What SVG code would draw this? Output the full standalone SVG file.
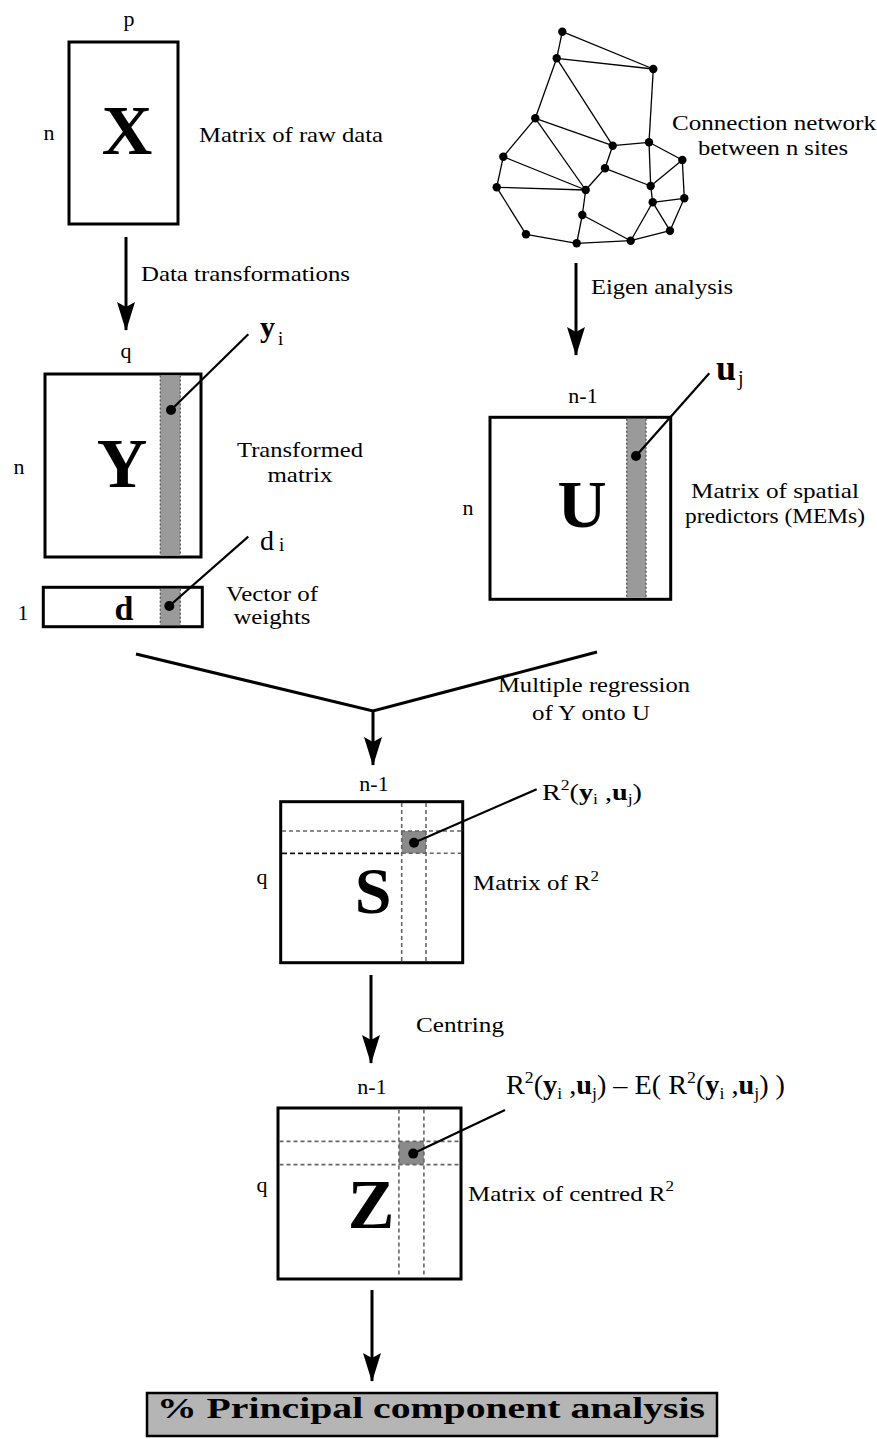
<svg xmlns="http://www.w3.org/2000/svg" width="877" height="1439" viewBox="0 0 877 1439">
<style>
text{font-family:"Liberation Serif","Times New Roman",serif;fill:#000}
.t{font-size:22px}
.big{font-size:70px;font-weight:bold}
.box{fill:#fff;stroke:#000;stroke-width:3}
.band{fill:#9a9a9a}
.dot{fill:#000}
.ld{stroke:#000;stroke-width:2.2;fill:none}
.dash{stroke:#666;stroke-width:1.6;stroke-dasharray:4 3;fill:none}
.dashk{stroke:#111;stroke-width:1.8;stroke-dasharray:5 3;fill:none}
.bedge{stroke:#555;stroke-width:1.3;stroke-dasharray:2 2;fill:none}
.net line{stroke:#000;stroke-width:1.3}
.net circle{fill:#000}
.arr{stroke:#000;stroke-width:3;fill:none}
</style>
<defs>
<marker id="ah" viewBox="0 -10 30 20" refX="28" refY="0" markerWidth="30" markerHeight="20" markerUnits="userSpaceOnUse" orient="auto">
<path d="M0,-9 L29,0 L0,9 L5,0 Z" fill="#000"/>
</marker>
</defs>

<g id="node-X">
<rect class="box" x="69" y="42" width="109" height="182"/>
<text class="t" x="129" y="26" text-anchor="middle">p</text>
<text class="t" x="49" y="140" text-anchor="middle">n</text>
<text class="big" x="127" y="154" text-anchor="middle">X</text>
<text class="t" x="199" y="142" textLength="184" lengthAdjust="spacingAndGlyphs">Matrix of raw data</text>
</g>

<g id="node-network" class="net">
<line x1="562.3" y1="31.7" x2="556.7" y2="58.3"/>
<line x1="562.3" y1="31.7" x2="653.3" y2="69"/>
<line x1="556.7" y1="58.3" x2="653.3" y2="69"/>
<line x1="556.7" y1="58.3" x2="535.3" y2="118.3"/>
<line x1="556.7" y1="58.3" x2="612.7" y2="145.7"/>
<line x1="653.3" y1="69" x2="649" y2="142.3"/>
<line x1="535.3" y1="118.3" x2="503.3" y2="156.7"/>
<line x1="535.3" y1="118.3" x2="612.7" y2="145.7"/>
<line x1="535.3" y1="118.3" x2="585.7" y2="190"/>
<line x1="503.3" y1="156.7" x2="585.7" y2="190"/>
<line x1="503.3" y1="156.7" x2="496.7" y2="187.3"/>
<line x1="496.7" y1="187.3" x2="585.7" y2="190"/>
<line x1="496.7" y1="187.3" x2="526" y2="234.3"/>
<line x1="612.7" y1="145.7" x2="649" y2="142.3"/>
<line x1="612.7" y1="145.7" x2="605" y2="168.3"/>
<line x1="605" y1="168.3" x2="585.7" y2="190"/>
<line x1="605" y1="168.3" x2="650.7" y2="186"/>
<line x1="649" y1="142.3" x2="650.7" y2="186"/>
<line x1="649" y1="142.3" x2="682.3" y2="160"/>
<line x1="682.3" y1="160" x2="650.7" y2="186"/>
<line x1="682.3" y1="160" x2="684.3" y2="198.3"/>
<line x1="650.7" y1="186" x2="652.7" y2="202.3"/>
<line x1="652.7" y1="202.3" x2="684.3" y2="198.3"/>
<line x1="684.3" y1="198.3" x2="670" y2="230.7"/>
<line x1="652.7" y1="202.3" x2="670" y2="230.7"/>
<line x1="652.7" y1="202.3" x2="630.7" y2="240.7"/>
<line x1="585.7" y1="190" x2="582.3" y2="215"/>
<line x1="582.3" y1="215" x2="576.7" y2="243.3"/>
<line x1="582.3" y1="215" x2="630.7" y2="240.7"/>
<line x1="526" y1="234.3" x2="576.7" y2="243.3"/>
<line x1="576.7" y1="243.3" x2="630.7" y2="240.7"/>
<line x1="630.7" y1="240.7" x2="670" y2="230.7"/>
<circle cx="562.3" cy="31.7" r="4.2"/>
<circle cx="556.7" cy="58.3" r="4.2"/>
<circle cx="653.3" cy="69" r="4.2"/>
<circle cx="535.3" cy="118.3" r="4.2"/>
<circle cx="612.7" cy="145.7" r="4.2"/>
<circle cx="649" cy="142.3" r="4.2"/>
<circle cx="503.3" cy="156.7" r="4.2"/>
<circle cx="605" cy="168.3" r="4.2"/>
<circle cx="682.3" cy="160" r="4.2"/>
<circle cx="496.7" cy="187.3" r="4.2"/>
<circle cx="585.7" cy="190" r="4.2"/>
<circle cx="650.7" cy="186" r="4.2"/>
<circle cx="652.7" cy="202.3" r="4.2"/>
<circle cx="684.3" cy="198.3" r="4.2"/>
<circle cx="582.3" cy="215" r="4.2"/>
<circle cx="526" cy="234.3" r="4.2"/>
<circle cx="576.7" cy="243.3" r="4.2"/>
<circle cx="630.7" cy="240.7" r="4.2"/>
<circle cx="670" cy="230.7" r="4.2"/>
<text class="t" x="672" y="130" textLength="204" lengthAdjust="spacingAndGlyphs">Connection network</text>
<text class="t" x="698" y="155" textLength="150" lengthAdjust="spacingAndGlyphs">between n sites</text>
</g>

<g id="node-Y">
<rect class="box" x="45" y="374" width="156" height="183"/>
<rect class="band" x="160.3" y="375.5" width="20" height="180"/>
<line class="bedge" x1="160.3" y1="375.5" x2="160.3" y2="555.5"/>
<line class="bedge" x1="180.3" y1="375.5" x2="180.3" y2="555.5"/>
<text class="t" x="126" y="358" text-anchor="middle">q</text>
<text class="t" x="19" y="474" text-anchor="middle">n</text>
<text class="big" x="122" y="487" text-anchor="middle">Y</text>
<line class="ld" x1="171" y1="410" x2="248.3" y2="334.3"/>
<circle class="dot" cx="171" cy="410" r="5"/>
<text x="260" y="337"><tspan font-size="30" font-weight="bold">y</tspan><tspan font-size="19" dx="3" dy="8">i</tspan></text>
<text class="t" x="300" y="457" text-anchor="middle" textLength="126" lengthAdjust="spacingAndGlyphs">Transformed</text>
<text class="t" x="300" y="482" text-anchor="middle" textLength="65" lengthAdjust="spacingAndGlyphs">matrix</text>
</g>

<g id="node-d">
<rect class="box" x="43.3" y="587.3" width="159" height="39.4"/>
<rect class="band" x="160.3" y="588.8" width="20" height="36.4"/>
<line class="bedge" x1="160.3" y1="588.8" x2="160.3" y2="625.2"/>
<line class="bedge" x1="180.3" y1="588.8" x2="180.3" y2="625.2"/>
<text class="t" x="23" y="620" text-anchor="middle" font-size="25">1</text>
<text x="124" y="620" text-anchor="middle" font-size="34" font-weight="bold">d</text>
<line class="ld" x1="169.3" y1="606" x2="248.3" y2="536.7"/>
<circle class="dot" cx="169.3" cy="606" r="5"/>
<text x="260" y="550"><tspan font-size="28">d</tspan><tspan font-size="19" dx="5" dy="1">i</tspan></text>
<text class="t" x="272" y="601" text-anchor="middle" textLength="92" lengthAdjust="spacingAndGlyphs">Vector of</text>
<text class="t" x="272" y="624" text-anchor="middle" textLength="77" lengthAdjust="spacingAndGlyphs">weights</text>
</g>

<g id="node-U">
<rect class="box" x="490" y="417.3" width="180.7" height="182"/>
<rect class="band" x="626.7" y="418.8" width="19.3" height="179"/>
<line class="bedge" x1="626.7" y1="418.8" x2="626.7" y2="597.8"/>
<line class="bedge" x1="646" y1="418.8" x2="646" y2="597.8"/>
<text class="t" x="583" y="403" text-anchor="middle">n-1</text>
<text class="t" x="468" y="515" text-anchor="middle">n</text>
<text x="582" y="527" text-anchor="middle" font-size="68" font-weight="bold">U</text>
<line class="ld" x1="636" y1="456" x2="709.3" y2="373.3"/>
<circle class="dot" cx="636" cy="456" r="5"/>
<text x="716" y="380"><tspan font-size="36" font-weight="bold">u</tspan><tspan font-size="20" dx="2" dy="5">j</tspan></text>
<text class="t" x="775" y="498" text-anchor="middle" textLength="168" lengthAdjust="spacingAndGlyphs">Matrix of spatial</text>
<text class="t" x="775" y="523" text-anchor="middle" textLength="180" lengthAdjust="spacingAndGlyphs">predictors (MEMs)</text>
</g>

<g id="node-S">
<rect class="box" x="280.7" y="801.7" width="182" height="161"/>
<rect x="401.7" y="831" width="24.3" height="22.3" fill="#8a8a8a"/>
<line class="dash" x1="401.7" y1="803" x2="401.7" y2="961"/>
<line class="dash" x1="426" y1="803" x2="426" y2="961"/>
<line class="dash" x1="282" y1="831" x2="461.5" y2="831"/>
<line class="dashk" x1="282" y1="853.3" x2="401.7" y2="853.3"/>
<line class="dash" x1="401.7" y1="853.3" x2="461.5" y2="853.3"/>
<text class="t" x="374" y="791" text-anchor="middle">n-1</text>
<text class="t" x="262" y="884" text-anchor="middle">q</text>
<text x="373" y="913" text-anchor="middle" font-size="66" font-weight="bold">S</text>
<line class="ld" x1="414" y1="842.7" x2="536.7" y2="789.3"/>
<circle class="dot" cx="414" cy="842.7" r="5"/>
<text x="542" y="800" font-size="24" textLength="100" lengthAdjust="spacingAndGlyphs">R<tspan font-size="15" dy="-10">2</tspan><tspan dy="10">(</tspan><tspan font-weight="bold">y</tspan><tspan font-size="15" dy="4">i</tspan><tspan dy="-4"> ,</tspan><tspan font-weight="bold">u</tspan><tspan font-size="15" dy="4">j</tspan><tspan dy="-4">)</tspan></text>
<text class="t" x="473" y="890" textLength="126" lengthAdjust="spacingAndGlyphs">Matrix of R<tspan font-size="15" dy="-9">2</tspan></text>
</g>

<g id="node-Z">
<rect class="box" x="278" y="1108" width="183" height="171"/>
<rect x="398.9" y="1141.4" width="25" height="23.2" fill="#8a8a8a"/>
<line class="dash" x1="398.9" y1="1109.5" x2="398.9" y2="1277.5"/>
<line class="dash" x1="423.9" y1="1109.5" x2="423.9" y2="1277.5"/>
<line class="dash" x1="279.5" y1="1141.4" x2="459.5" y2="1141.4"/>
<line class="dash" x1="279.5" y1="1164.6" x2="459.5" y2="1164.6"/>
<text class="t" x="372" y="1094" text-anchor="middle">n-1</text>
<text class="t" x="262" y="1192" text-anchor="middle">q</text>
<text x="371" y="1228" text-anchor="middle" font-size="70" font-weight="bold">Z</text>
<line class="ld" x1="413.2" y1="1153.6" x2="505" y2="1110"/>
<circle class="dot" cx="413.2" cy="1153.6" r="5"/>
<text x="506" y="1094" font-size="27" textLength="279" lengthAdjust="spacingAndGlyphs">R<tspan font-size="17" dy="-11">2</tspan><tspan dy="11">(</tspan><tspan font-weight="bold">y</tspan><tspan font-size="17" dy="5">i</tspan><tspan dy="-5"> ,</tspan><tspan font-weight="bold">u</tspan><tspan font-size="17" dy="5">j</tspan><tspan dy="-5">) – E( R</tspan><tspan font-size="17" dy="-11">2</tspan><tspan dy="11">(</tspan><tspan font-weight="bold">y</tspan><tspan font-size="17" dy="5">i</tspan><tspan dy="-5"> ,</tspan><tspan font-weight="bold">u</tspan><tspan font-size="17" dy="5">j</tspan><tspan dy="-5">) )</tspan></text>
<text class="t" x="468" y="1201" textLength="206" lengthAdjust="spacingAndGlyphs">Matrix of centred R<tspan font-size="15" dy="-10">2</tspan></text>
</g>

<g id="node-PCA">
<rect x="147" y="1393" width="570" height="43" fill="#b5b5b5" stroke="#000" stroke-width="2.5"/>
<text x="157" y="1418" font-size="29" font-weight="bold" textLength="548" lengthAdjust="spacingAndGlyphs">% Principal  component analysis</text>
</g>

<g id="connectors">
<line class="arr" x1="126" y1="237" x2="126" y2="330" marker-end="url(#ah)"/>
<text class="t" x="141" y="281" textLength="209" lengthAdjust="spacingAndGlyphs">Data transformations</text>
<line class="arr" x1="576" y1="263" x2="576" y2="355" marker-end="url(#ah)"/>
<text class="t" x="591" y="294" textLength="142" lengthAdjust="spacingAndGlyphs">Eigen analysis</text>
<polyline class="arr" points="136,654 373,711 597,652"/>
<line class="arr" x1="373" y1="710" x2="373" y2="765" marker-end="url(#ah)"/>
<text class="t" x="594" y="692" text-anchor="middle" textLength="192" lengthAdjust="spacingAndGlyphs">Multiple regression</text>
<text class="t" x="591" y="720" text-anchor="middle" textLength="118" lengthAdjust="spacingAndGlyphs">of Y onto U</text>
<line class="arr" x1="371" y1="975" x2="371" y2="1063" marker-end="url(#ah)"/>
<text class="t" x="416" y="1032" textLength="88" lengthAdjust="spacingAndGlyphs">Centring</text>
<line class="arr" x1="372" y1="1290" x2="372" y2="1381" marker-end="url(#ah)"/>
</g>
</svg>
